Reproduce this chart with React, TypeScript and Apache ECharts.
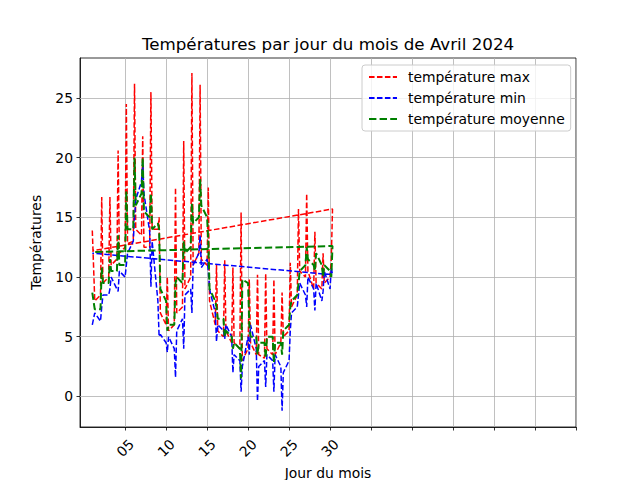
import React, { useEffect, useRef } from "react";
import * as echarts from "echarts";

// Days of April 2024
const days = [1, 2, 3, 4, 5, 6, 7, 8, 9, 10, 11, 12, 13, 14, 15, 16, 17, 18, 19, 20, 21, 22, 23, 24, 25, 26, 27, 28, 29, 30];
// fraction of day of each reading
const readingOffsets = [0, 0.15, 0.3];

// three readings per day (°C)
const tempMax = [
  [13.9, 11.0, 8.0], [8.5, 16.7, 9.5], [10.0, 16.7, 11.0], [11.5, 20.6, 12.0], [12.5, 24.5, 12.8],
  [13.0, 26.2, 14.0], [13.5, 21.8, 12.5], [12.5, 25.5, 14.0], [14.0, 15.0, 7.0], [6.0, 10.0, 5.5],
  [6.0, 17.5, 7.0], [7.5, 21.4, 9.0], [10.0, 27.1, 11.0], [12.0, 26.1, 11.5], [11.0, 17.5, 8.0],
  [6.0, 11.0, 5.5], [5.0, 11.4, 5.5], [4.5, 10.8, 4.5], [4.0, 15.4, 3.0], [4.0, 9.8, 4.5],
  [3.5, 10.2, 3.5], [3.2, 10.3, 4.0], [3.5, 9.8, 3.5], [4.5, 8.7, 5.0], [5.5, 11.2, 7.5],
  [8.5, 15.7, 10.5], [10.0, 17.0, 10.5], [9.0, 13.8, 9.5], [9.0, 12.0, 9.5], [10.0, 11.5, 15.7],
];
const tempMin = [
  [6.0, 6.5, 7.0], [6.3, 7.5, 8.5], [8.5, 9.0, 10.0], [9.0, 8.8, 10.5], [10.0, 11.0, 12.0],
  [13.0, 15.0, 16.5], [18.0, 19.6, 17.0], [13.8, 9.2, 13.0], [8.0, 5.0, 5.2], [4.5, 3.7, 5.0],
  [4.0, 1.6, 5.5], [6.5, 4.0, 8.5], [9.0, 7.0, 11.0], [12.0, 13.5, 10.8], [11.5, 10.5, 9.0],
  [7.0, 4.6, 6.0], [5.5, 4.8, 6.0], [5.0, 2.0, 3.5], [3.0, 0.4, 2.5], [5.0, 3.5, 6.0],
  [4.0, -0.4, 2.5], [3.0, 0.8, 3.5], [3.0, 0.4, 3.5], [2.5, -1.2, 2.0], [3.0, 5.5, 7.0],
  [7.5, 8.5, 9.5], [8.5, 7.5, 10.0], [9.0, 7.2, 9.5], [8.0, 8.8, 10.5], [9.0, 10.8, 10.2],
];
const tempMoy = [
  [8.7, 8.0, 7.3], [7.3, 10.8, 9.5], [9.5, 11.5, 10.5], [10.5, 13.5, 11.0], [11.0, 17.2, 14.0],
  [14.0, 20.0, 16.0], [17.0, 20.0, 15.5], [15.0, 17.0, 14.0], [14.5, 14.0, 9.0], [8.0, 5.5, 6.0],
  [6.0, 9.5, 10.0], [9.5, 13.0, 12.0], [12.5, 16.2, 14.5], [15.0, 18.2, 16.0], [15.0, 13.0, 9.0],
  [8.0, 7.5, 6.5], [6.5, 5.0, 5.5], [5.0, 4.0, 4.5], [4.0, 1.5, 9.8], [9.5, 6.0, 5.0],
  [5.0, 3.5, 4.5], [4.5, 3.2, 5.0], [5.0, 2.8, 4.5], [4.5, 3.5, 5.5], [6.0, 7.5, 8.0],
  [8.5, 9.5, 10.5], [11.0, 12.5, 11.5], [11.0, 10.5, 12.0], [11.0, 10.0, 11.0], [10.5, 10.0, 12.6],
];
// final record (dated day 1)
const closingDay = 1;
const closingMax = 12.2;
const closingMin = 12.0;
const closingMoy = 12.1;

const xTicks = [5, 10, 15, 20, 25, 30, 35, 40, 45, 50, 55, 60];
const xTickLabels = [5, 10, 15, 20, 25, 30];
const yTicks = [0, 5, 10, 15, 20, 25];

const seriesNames = ["température max", "température min", "température moyenne"];

function buildData(readings: number[][], closing: number) {
  const pts: number[][] = [];
  days.forEach((d, i) => {
    readingOffsets.forEach((o, j) => pts.push([d + o, readings[i][j]]));
  });
  pts.push([closingDay, closing]);
  return pts;
}

const FONT = "DejaVu Sans";

export default function App() {
  const ref = useRef<HTMLDivElement>(null);
  useEffect(() => {
    document.body.style.margin = "0";
    const chart = echarts.init(ref.current!, undefined, { renderer: "svg" });
    const axisCommon = {
      axisLine: { show: true, onZero: false, lineStyle: { color: "#000", width: 0.8 } },
      axisTick: { show: true, length: 3.5, lineStyle: { color: "#000", width: 0.8 } },
      splitLine: { show: false },
    };
    chart.setOption({
      animation: false,
      textStyle: { fontFamily: FONT },
      title: {
        text: "Températures par jour du mois de Avril 2024",
        left: 328,
        textAlign: "center",
        top: 35,
        padding: 0,
        textStyle: { fontFamily: FONT, fontSize: 16.7, fontWeight: "normal", color: "#000" },
      },
      grid: {
        left: 80, top: 58, width: 496, height: 369,
        show: true, borderColor: "#000", borderWidth: 0.8,
        outerBoundsMode: "none",
        containLabel: false,
      },
      legend: {
        orient: "vertical",
        left: 362,
        top: 65,
        padding: [5, 6, 5, 6],
        itemGap: 7,
        itemWidth: 28,
        itemHeight: 14,
        itemStyle: { opacity: 0 },
        backgroundColor: "rgba(255,255,255,0.8)",
        borderColor: "#cccccc",
        borderWidth: 1,
        borderRadius: 3,
        textStyle: { fontFamily: FONT, fontSize: 13.9, color: "#000", padding: [0, 0, 0, 6] },
        data: seriesNames,
      },
      xAxis: {
        type: "value",
        min: -0.5,
        max: 60,
        name: "Jour du mois",
        nameLocation: "middle",
        nameGap: 37,
        nameTextStyle: { fontFamily: FONT, fontSize: 13.9, color: "#000" },
        ...axisCommon,
        axisTick: { ...axisCommon.axisTick, customValues: xTicks },
        axisLabel: {
          customValues: xTickLabels,
          rotate: 45,
          margin: 21,
          align: "center",
          verticalAlign: "middle",
          fontFamily: FONT,
          fontSize: 13.9,
          color: "#000",
          formatter: (v: number) => String(v).padStart(2, "0"),
        },
      },
      yAxis: {
        type: "value",
        min: -2.56,
        max: 28.35,
        name: "Températures",
        nameLocation: "middle",
        nameGap: 37,
        nameTextStyle: { fontFamily: FONT, fontSize: 13.9, color: "#000" },
        ...axisCommon,
        axisTick: { ...axisCommon.axisTick, customValues: yTicks },
        axisLabel: {
          customValues: yTicks,
          margin: 7,
          fontFamily: FONT,
          fontSize: 13.9,
          color: "#000",
        },
      },
      series: [
        {
          name: "grille",
          type: "line",
          data: [],
          z: 1,
          silent: true,
          markLine: {
            z: 1,
            silent: true,
            symbol: ["none", "none"],
            label: { show: false },
            lineStyle: { color: "#b0b0b0", width: 0.8, type: "solid" },
            emphasis: { disabled: true },
            data: [
              ...xTicks.map((v) => ({ xAxis: v })),
              ...yTicks.map((v) => ({ yAxis: v })),
            ],
          },
        },
        {
          name: seriesNames[0], type: "line", data: buildData(tempMax, closingMax),
          symbol: "none", color: "#ff0000", z: 3,
          lineStyle: { color: "#ff0000", width: 1.5, type: [5.55, 2.4] },
        },
        {
          name: seriesNames[1], type: "line", data: buildData(tempMin, closingMin),
          symbol: "none", color: "#0000ff", z: 3,
          lineStyle: { color: "#0000ff", width: 1.5, type: [5.55, 2.4] },
        },
        {
          name: seriesNames[2], type: "line", data: buildData(tempMoy, closingMoy),
          symbol: "none", color: "#008000", z: 3,
          lineStyle: { color: "#008000", width: 2, type: [7.4, 3.2] },
        },
      ],
    });
    return () => chart.dispose();
  }, []);
  return <div ref={ref} style={{ width: 640, height: 480 }} />;
}
